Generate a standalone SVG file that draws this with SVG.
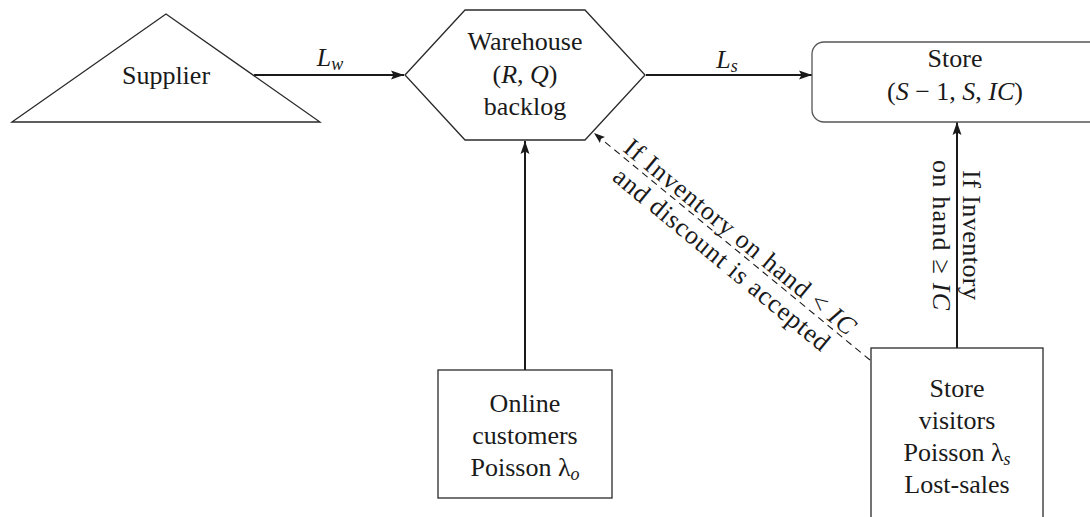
<svg xmlns="http://www.w3.org/2000/svg" width="1090" height="517" viewBox="0 0 1090 517">
<style>
text{font-family:"Liberation Serif","Times New Roman",serif;font-size:26px;fill:#1a1a1a;text-anchor:middle}
.it{font-style:italic}
.sub{font-size:18px;font-style:italic}
.shape{fill:#fff;stroke:#2a2a2a;stroke-width:1.3}
.edge{fill:none;stroke:#1a1a1a;stroke-width:2}
.dash{fill:none;stroke:#1a1a1a;stroke-width:1.1;stroke-dasharray:7 5}
</style>
<defs>
<marker id="ah" markerUnits="userSpaceOnUse" markerWidth="14" markerHeight="10" refX="13" refY="5" orient="auto">
<path d="M0,0.5 L13,5 L0,9.5 L2.5,5 z" fill="#1a1a1a"/>
</marker>
<marker id="ahs" markerUnits="userSpaceOnUse" markerWidth="12" markerHeight="9" refX="11" refY="4.5" orient="auto">
<path d="M0,0.5 L11,4.5 L0,8.5 L2,4.5 z" fill="#1a1a1a"/>
</marker>
</defs>
<g id="connectors">
<line class="edge" x1="254" y1="75" x2="404" y2="75" marker-end="url(#ah)"/>
<line class="edge" x1="646" y1="75" x2="812" y2="75" marker-end="url(#ah)"/>
<line class="edge" x1="525" y1="370" x2="525" y2="141" marker-end="url(#ah)"/>
<line class="edge" x1="957" y1="348" x2="957" y2="122" marker-end="url(#ah)"/>
<line class="dash" x1="870" y1="360" x2="594" y2="133" marker-end="url(#ahs)"/>
<text x="330" y="66"><tspan class="it">L</tspan><tspan class="sub" dy="4">w</tspan></text>
<text x="727" y="68"><tspan class="it">L</tspan><tspan class="sub" dy="4">s</tspan></text>
<g transform="translate(957,235) rotate(90)">
<text x="0" y="-6" textLength="130" lengthAdjust="spacing">If Inventory</text>
<text x="0" y="24" textLength="150" lengthAdjust="spacing">on hand  ≥  <tspan class="it">IC</tspan></text>
</g>
<g transform="translate(732,246.5) rotate(39.5)">
<text x="0" y="-4" textLength="292" lengthAdjust="spacing">If Inventory on hand &lt; <tspan class="it">IC</tspan></text>
<text x="0" y="25" textLength="272" lengthAdjust="spacing">and discount is accepted</text>
</g>
</g>
<g id="supplier">
<polygon class="shape" points="12,122 166,14 320,122"/>
<text x="166" y="84">Supplier</text>
</g>
<g id="warehouse">
<polygon class="shape" points="405,75 465,10 585,10 645,75 585,140 465,140"/>
<text x="525" y="50">Warehouse</text>
<text x="525" y="83">(<tspan class="it">R</tspan>, <tspan class="it">Q</tspan>)</text>
<text x="525" y="115">backlog</text>
</g>
<g id="store">
<rect x="812" y="42" width="300" height="80" rx="12" fill="#fff" stroke="#555" stroke-width="1.3"/>
<text x="955" y="67">Store</text>
<text x="955" y="100">(<tspan class="it">S</tspan> − 1, <tspan class="it">S</tspan>, <tspan class="it">IC</tspan>)</text>
</g>
<g id="online">
<rect class="shape" x="438" y="370" width="174" height="128"/>
<text x="525" y="412">Online</text>
<text x="525" y="444">customers</text>
<text x="525" y="476">Poisson λ<tspan class="sub" dy="4">o</tspan></text>
</g>
<g id="visitors">
<rect class="shape" x="871" y="348" width="172" height="180"/>
<text x="957" y="397">Store</text>
<text x="957" y="429">visitors</text>
<text x="957" y="461">Poisson λ<tspan class="sub" dy="4">s</tspan></text>
<text x="957" y="493">Lost-sales</text>
</g>
</svg>
